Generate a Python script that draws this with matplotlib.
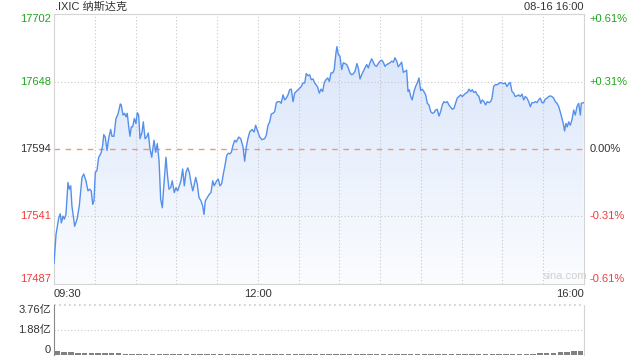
import numpy as np
import matplotlib
matplotlib.use("Agg")
import matplotlib.pyplot as plt

plt.rcParams['font.family'] = ['Liberation Sans', 'Noto Sans CJK SC']

# minutes since 09:30 and index level
minutes = [0, 1.5, 3.5, 4.6, 5.4, 6.6, 7.6, 8.8, 10.3, 11.3, 12.3, 13.2, 15.2, 16.9, 18.6,
           20.6, 21.9, 23.5, 25, 26.3, 27.4, 28.5, 29.4, 30.4, 31.6, 32.9, 34.6, 35.8, 36.6,
           37.7, 39, 40.2, 41.7, 42.7, 44.1, 45.6, 47.1, 48.8, 49.5, 50.8, 52, 53, 53.9, 55,
           55.9, 56.9, 57.9, 59.1, 60.3, 61.3, 62.3, 63.3, 64.8, 65.7, 67, 68.2, 69.4, 70.6,
           71.9, 73.6, 74.8, 76, 77.3, 78.5, 79.7, 80.9, 82.4, 83.4, 84.6, 85.9, 87, 88.5,
           89.8, 91, 92.2, 93.4, 94.7, 95.9, 97.1, 98.4, 99.6, 100.8, 102.1, 103, 104.3, 105.4,
           106.7, 108.2, 109.4, 110.4, 111.3, 112.8, 114.3, 115.5, 116.8, 117.9, 119.7, 120.9,
           122.1, 123.4, 124.6, 125.8, 127.1, 128.3, 129.5, 130.5, 131.7, 133, 134.1, 135.9,
           137.4, 139.1, 140.3, 141.5, 142.7, 144, 145.7, 147.2, 148.4, 149.6, 151.4, 153, 155,
           156.2, 157.5, 158.7, 159.9, 161.1, 162.4, 163.6, 164.8, 166.1, 167.2, 168.5, 169.8,
           170.9, 172.2, 173.4, 174.6, 175.9, 177.1, 178.3, 179.5, 180.8, 182, 183.2, 184.5,
           185.6, 186.9, 188.1, 189.3, 190.6, 191.8, 192.8, 194, 195.2, 196.5, 197.7, 198.9,
           200.1, 201.4, 202.6, 203.8, 205.1, 206.2, 207.5, 208.2, 209.2, 210.4, 211.7, 212.9,
           214.1, 215.4, 216.5, 217.8, 219, 220.2, 221.5, 222.9, 223.9, 225.2, 226.4, 227.6,
           228.8, 230.1, 231.3, 232.5, 233.8, 234.9, 236.2, 237.4, 238.6, 239.9, 241.1, 242.3,
           243.5, 244.8, 246, 247.2, 248.5, 249.7, 250.9, 252.2, 253.3, 254.6, 255.8, 257,
           258.3, 259.5, 260.5, 261.4, 262.5, 263.6, 264.9, 266.1, 267.3, 268.6, 269.8, 271,
           272.2, 273.5, 274.7, 275.9, 277.2, 278.4, 279.6, 280.8, 282, 283.3, 284.5, 285.7,
           286.9, 288.2, 289.4, 290.6, 291.9, 293.1, 294.3, 295.6, 296.7, 298, 299.2, 300.4,
           301.7, 302.9, 304.1, 305.4, 306.6, 307.8, 309, 310.3, 311.5, 312.7, 314, 315.1,
           316.4, 317.6, 318.8, 320.1, 321.3, 322.3, 323.5, 324.7, 326, 327.2, 328.4, 329.6,
           330.9, 332.1, 333.3, 334.6, 335.7, 337, 338.2, 339.4, 340.7, 341.9, 343.1, 344.4,
           345.6, 346.8, 348, 349.3, 350.5, 351.7, 353, 354.1, 355.4, 356.6, 357.8, 359.1,
           360.3, 361.5, 362.8, 364, 365.2, 366.4, 367.7, 368.9, 370.1, 371.4, 372.5, 373.8,
           375, 375.7, 376.7, 377.7, 378.7, 379.9, 381.2, 382.4, 383.6, 384.8, 386.1, 387.3,
           388, 389.7]
price = [17503.2, 17526.3, 17539.4, 17542.7, 17535.4, 17540.8, 17538.4, 17542.2, 17567.6,
         17562.3, 17565, 17548.9, 17532.7, 17538.1, 17548.9, 17571.7, 17574.4, 17569, 17561,
         17562.3, 17561, 17550.2, 17552.9, 17575.7, 17577.1, 17587.8, 17591, 17597.2, 17605.8,
         17603.9, 17593.2, 17602.6, 17609.9, 17604.5, 17604.5, 17618.7, 17622.2, 17630.3,
         17629.5, 17621.4, 17622.8, 17620, 17622.8, 17612, 17604.5, 17612, 17612, 17618.7,
         17614.7, 17623.3, 17621.4, 17602.6, 17607.9, 17616, 17602.6, 17603.9, 17607.1,
         17594.6, 17587.8, 17601.3, 17591.8, 17598.6, 17585.1, 17554.3, 17547.5, 17566.4,
         17587.8, 17574.4, 17562.3, 17563.6, 17569, 17559.6, 17563.6, 17561, 17565, 17569,
         17578.4, 17565, 17575.7, 17579.3, 17575.7, 17567.6, 17561, 17565, 17571.7, 17566.4,
         17555.6, 17552.9, 17548.9, 17542.2, 17552.9, 17555.6, 17558.3, 17559.6, 17569, 17565,
         17569, 17570.4, 17565, 17566.8, 17574.4, 17581.1, 17589.2, 17591, 17590.5, 17591.8,
         17597.2, 17601.3, 17599.9, 17603.9, 17602.6, 17595.9, 17584.6, 17595.9, 17602.6,
         17607.9, 17609.9, 17607.9, 17613.3, 17609.3, 17603.9, 17601.8, 17602.6, 17605.3,
         17613.3, 17616, 17622.2, 17622.8, 17624.1, 17631.3, 17632.1, 17632.1, 17630.8,
         17637.5, 17633.5, 17634.9, 17637.5, 17641.6, 17642.1, 17632.1, 17638.9, 17640.2,
         17641.6, 17642.9, 17644.2, 17647, 17647, 17654.5, 17652.8, 17653.6, 17649.6, 17650.2,
         17647, 17645.6, 17643.7, 17638.9, 17642.1, 17640.2, 17647.4, 17649.6, 17651, 17648.2,
         17655, 17655, 17657.7, 17671.1, 17676, 17669.8, 17668.4, 17657.7, 17663.1, 17662.5,
         17661.7, 17659, 17655, 17653.6, 17654.2, 17656.3, 17662.5, 17659, 17650.2, 17653.6,
         17656.3, 17659, 17661.7, 17659, 17663.1, 17666.3, 17663.6, 17660.9, 17660.3, 17662.5,
         17664.4, 17665.2, 17663.6, 17660.3, 17661.7, 17662.3, 17663.1, 17664.4, 17663.6,
         17667.1, 17664.4, 17659.9, 17661.7, 17663.6, 17655.5, 17656.3, 17657.1, 17640.2,
         17641.6, 17636.2, 17633.5, 17640.2, 17644.2, 17647, 17651, 17641, 17642.1, 17640.2,
         17637.5, 17630.8, 17629.5, 17624.1, 17622.8, 17623.3, 17625.4, 17626, 17620.6,
         17624.1, 17629.5, 17632.1, 17631.3, 17632.1, 17629.5, 17627.6, 17626, 17626.8,
         17631.3, 17634.9, 17636.2, 17637.5, 17636.2, 17637.5, 17638.9, 17639.4, 17642.1,
         17640.2, 17641.6, 17639.4, 17640.2, 17637.5, 17636.2, 17630.8, 17633.5, 17632.1,
         17629.5, 17632.1, 17631.3, 17632.1, 17634.9, 17644.2, 17645.6, 17645.6, 17646.4,
         17647.4, 17647, 17646.4, 17647, 17644.2, 17646.4, 17647.4, 17640.2, 17638.9, 17636.2,
         17636.7, 17637.5, 17636.2, 17638.1, 17633.5, 17636.2, 17634.9, 17632.1, 17628.1,
         17631.3, 17631.3, 17632.1, 17631.3, 17633.5, 17634.9, 17631.3, 17631.3, 17634.1,
         17634.9, 17636.2, 17636.7, 17636.2, 17634.9, 17632.1, 17630.8, 17628.1, 17624.1,
         17618.7, 17613.3, 17608.7, 17614.7, 17612, 17616, 17613.3, 17617.9, 17625.4, 17621.4,
         17628.1, 17630.8, 17621.4, 17630.8, 17631.3]

# volume per 5 minutes, in 亿
volume = [0.28, 0.22, 0.2, 0.18, 0.17, 0.15, 0.14, 0.13, 0.12, 0.12, 0.11, 0.1, 0.1, 0.09,
          0.1, 0.09, 0.08, 0.08, 0.08, 0.07, 0.08, 0.07, 0.07, 0.06, 0.07, 0.06, 0.06, 0.06,
          0.07, 0.06, 0.06, 0.05, 0.06, 0.06, 0.05, 0.05, 0.06, 0.05, 0.05, 0.06, 0.05, 0.05,
          0.05, 0.06, 0.05, 0.05, 0.05, 0.06, 0.05, 0.05, 0.06, 0.06, 0.05, 0.06, 0.06, 0.06,
          0.06, 0.07, 0.06, 0.07, 0.07, 0.07, 0.08, 0.07, 0.08, 0.08, 0.09, 0.09, 0.1, 0.1,
          0.11, 0.12, 0.14, 0.16, 0.19, 0.22, 0.27, 0.33]

prev_close = 17594.5
left_ticks = [17487, 17541, 17594, 17648, 17702]
right_ticks = ['-0.61%', '-0.31%', '0.00%', '+0.31%', '+0.61%']
tick_colors = ['#f03c3c', '#f03c3c', '#333333', '#1fa51f', '#1fa51f']
time_labels = ['09:30', '12:00', '16:00']
vol_ticks = [0, 1.88, 3.76]
vol_labels = ['0', '1.88亿', '3.76亿']

fig = plt.figure(figsize=(6.4, 3.6), dpi=100)
ax = fig.add_axes([54/640, 1-284/360, 530/640, 270/360])
axv = fig.add_axes([54/640, 1-355/360, 530/640, 50/360])

ylo, yhi = 17486.7, 17702
ax.set_xlim(0, 390)
ax.set_ylim(ylo, yhi)

# gradient fill under the line
poly = ax.fill_between(minutes, price, ylo, facecolor='none', edgecolor='none')
grad = np.linspace(0, 1, 256).reshape(-1, 1)
top = np.array([0.84, 0.89, 0.98])
bot = np.array([0.985, 0.99, 1.0])
img = top + (bot - top) * grad[:, :, None]
im = ax.imshow(img, extent=[0, 390, ylo, yhi], aspect='auto', origin='upper', zorder=1)
im.set_clip_path(poly.get_paths()[0], transform=ax.transData)

ax.plot(minutes, price, color='#5590ec', lw=1, zorder=3)

grid_kw = dict(color='#c8c8c8', lw=0.8, ls=(0, (1, 2)), zorder=2)
for t in range(30, 390, 30):
    ax.axvline(t, **grid_kw)
for v in [17541, 17648]:
    ax.axhline(v, **grid_kw)
ax.axhline(prev_close, color='#e99c74', lw=1, ls=(0, (4, 4)), zorder=2)

for s in ax.spines.values():
    s.set_color('#d4d4d4')
ax.set_xticks([])
ax.set_yticks([])

for i, (v, lab, c) in enumerate(zip(left_ticks, right_ticks, tick_colors)):
    va = 'center'
    if i == 0:
        va = 'bottom'
    elif i == len(left_ticks) - 1:
        va = 'top'
    yv = min(max(v, ylo), yhi)
    ax.text(-0.006, yv, str(v), transform=ax.get_yaxis_transform(), ha='right', va=va,
            color=c, fontsize=8)
    ax.text(1.01, yv, lab, transform=ax.get_yaxis_transform(), ha='left', va=va,
            color=c, fontsize=8)

ax.text(0.0, -0.02, time_labels[0], transform=ax.transAxes, ha='left', va='top', fontsize=8, color='#333333')
ax.text(150, -0.02, time_labels[1], transform=ax.get_xaxis_transform(), ha='center', va='top', fontsize=8, color='#333333')
ax.text(1.0, -0.02, time_labels[2], transform=ax.transAxes, ha='right', va='top', fontsize=8, color='#333333')
ax.text(0.965, 0.01, 'sina.com', transform=ax.transAxes, ha='center', va='bottom', fontsize=8, color='#d0d0d0')

fig.text(55/640, 1-7/360, '.IXIC 纳斯达克', ha='left', va='center', fontsize=8, color='#333333')
fig.text(584/640, 1-7/360, '08-16 16:00', ha='right', va='center', fontsize=8, color='#333333')

# volume panel
vx = np.arange(len(volume)) * 5 + 2.5
axv.bar(vx, volume, width=4, color='#808080', zorder=3)
axv.set_xlim(0, 390)
axv.set_ylim(0, 3.76)
axv.axhline(1.88, **grid_kw)
axv.axhline(3.76, color='#c8c8c8', lw=1.2, ls=(0, (1, 2)), zorder=2, clip_on=False)
axv.set_xticks([])
axv.set_yticks([])
axv.spines['top'].set_visible(False)
axv.spines['bottom'].set_visible(False)
axv.spines['left'].set_color('#888888')
axv.spines['right'].set_color('#d4d4d4')
for v, lab in zip(vol_ticks, vol_labels):
    va = 'center'
    if v == 0:
        va = 'bottom'
    elif v == vol_ticks[-1]:
        va = 'top'
    axv.text(-0.006, v, lab, transform=axv.get_yaxis_transform(), ha='right', va=va,
             color='#333333', fontsize=8)

fig.savefig('out.png', dpi=100)
